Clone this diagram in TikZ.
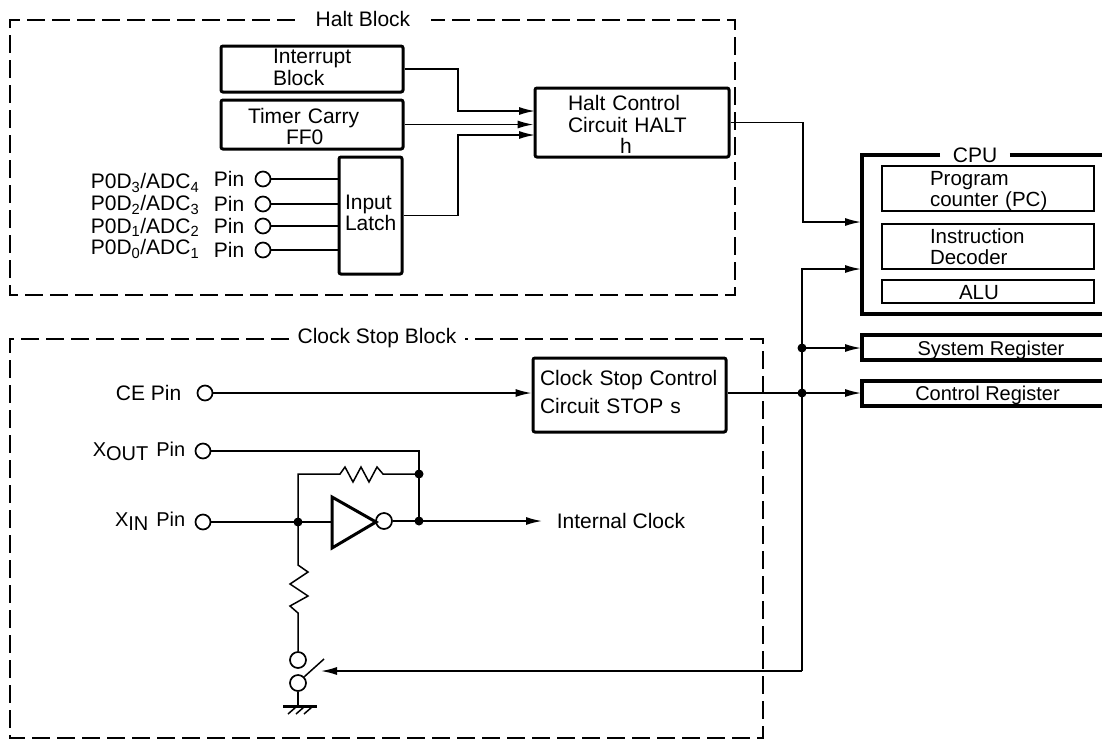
\documentclass[tikz,border=0pt]{standalone}
\usepackage{fontspec}
\usepackage{tikz}
\usetikzlibrary{positioning, arrows.meta, calc}
\setmainfont{Liberation Sans}
\newcommand{\lowtext}[1]{\raisebox{-4pt}{#1}}
\newcommand{\boxtext}[3]{\hspace*{#1}\raisebox{\dimexpr -8.3pt-#2}[0pt][0pt]{\begin{tabular}{@{}l@{}}#3\end{tabular}}}

\begin{document}
\begin{tikzpicture}[x=1pt, y=-1pt,
  line width=1.5pt,
  txt/.style={inner sep=0pt, font=\fontsize{21}{21}\selectfont, align=center},
  title/.style={txt, inner ysep=0pt},
  frame/.style={line width=1.6pt, dash pattern=on 18pt off 7pt},
  blockbox/.style={draw, line width=3pt, rounded corners=2pt, inner sep=0pt, align=left,
                   font=\fontsize{21}{21}\selectfont},
  cpubox/.style={draw, line width=1.6pt, inner sep=0pt, align=left,
                 font=\fontsize{20.5}{21}\selectfont},
  heavy/.style={line width=3.5pt},
  pin/.style={circle, draw, line width=1.7pt, inner sep=0pt, minimum size=15pt},
  dot/.style={circle, fill, inner sep=0pt, minimum size=9pt},
  arrow/.style={-{Latex[length=16pt, width=8pt]}},
]
  \useasboundingbox (0,0) rectangle (1102,740);

  % Halt block
  \node[title, inner xsep=20pt] (haltname) at (363,19) {Halt Block};
  \draw[frame] (haltname.west |- 0,20) -- (10,20) -- (10,295) -- (735,295) -- (735,20) -- (haltname.east |- 0,20);

  \node[blockbox, text width=182pt, minimum height=46pt] (interrupt) at (312,69) {\boxtext{52pt}{-2pt}{Interrupt\\Block}};
  \node[blockbox, text width=182pt, minimum height=49pt] (timer) at (312,124.5) {\boxtext{27pt}{2pt}{Timer Carry\\\hspace*{38pt}FF0}};
  \node[blockbox, text width=63pt, minimum height=117pt] (latch) at (370.5,215.5) {\boxtext{6pt}{-3pt}{Input\\Latch}};
  \node[blockbox, text width=194pt, minimum height=69pt] (haltctl) at (632,122.5) {\boxtext{33pt}{2pt}{Halt Control\\Circuit HALT\\\hspace*{52pt}h}};

  \foreach \name/\portd/\adc/\ypos/\ytext in {pa/3/4/179/183, pb/2/3/204/205, pc/1/2/226/227, pd/0/1/250/249} {
    \node[pin] (\name) at (263,\ypos) {};
    \node[txt, anchor=east] at (245,\ypos) {Pin};
    \node[txt, anchor=east] at (200,\ytext) {P0D\textsubscript{\portd}/ADC\textsubscript{\adc}};
    \draw (\name.east) -- (\name -| latch.west);
  }

  \coordinate (inta) at (535,111);
  \coordinate (intb) at (535,135);
  \draw[arrow] (interrupt.east) -| (458,111) -- (inta);
  \draw[arrow] (timer.east) -- (timer.east -| haltctl.west);
  \draw[arrow] (latch.east) -| (458,135) -- (intb);

  % CPU
  \node[title, inner xsep=12pt] (cpuname) at (975,155) {CPU};
  \draw[heavy] (cpuname.west) -- (862,155) -- (862,314) -- (1102,314);
  \draw[heavy] (cpuname.east) -- (1102,155);
  \node[cpubox, text width=212pt, minimum height=45pt] (pcbox) at (988,188.5) {\boxtext{48pt}{0pt}{Program\\counter (PC)}};
  \node[cpubox, text width=212pt, minimum height=45pt] (decoder) at (988,246.5) {\boxtext{48pt}{0pt}{Instruction\\Decoder}};
  \node[cpubox, text width=212pt, minimum height=23pt] (alu) at (988,291.5) {\boxtext{77pt}{1pt}{ALU}};

  % registers
  \node[txt, font=\fontsize{20}{20}\selectfont] (sysreg) at (991,350) {System Register};
  \node[txt, font=\fontsize{20}{20}\selectfont] (ctlreg) at (987.5,395) {Control Register};
  \draw[heavy] (1102,335) -- (862,335) -- (862,360) -- (1102,360);
  \draw[heavy] (1102,381) -- (862,381) -- (862,406) -- (1102,406);

  \coordinate (cpuhalt) at (861,222);
  \coordinate (cpustop) at (861,269);
  \coordinate (sysin) at (861,348);
  \coordinate (ctlin) at (861,393);
  \draw[arrow] (haltctl.east) -| (803,222) -- (cpuhalt);

  % Clock stop block
  \node[title, inner xsep=8pt] (stopname) at (377,338) {Clock Stop Block};
  \draw[frame] (stopname.west |- 0,339) -- (10,339) -- (10,738) -- (763,738) -- (763,339) -- (stopname.east |- 0,339);

  \node[blockbox, text width=193pt, minimum height=74pt] (stopctl) at (629.5,395) {\boxtext{7pt}{-3pt}{Clock Stop Control\\[7pt]Circuit STOP s}};
  \node[pin] (cepin) at (205,393) {};
  \node[txt, anchor=east] at (182,393) {CE Pin};
  \draw[arrow] (cepin.east) -- (cepin -| stopctl.west);

  \node[dot] (sysdot) at (802,348) {};
  \node[dot] (ctldot) at (802,393) {};
  \coordinate (swcorner) at (802,671);
  \coordinate (swtip) at (321,671);
  \draw[arrow] (ctldot.center) -- (ctlin);
  \draw[arrow] (sysdot.center) -- (sysin);
  \draw (ctldot -| stopctl.east) -- (ctldot.center);
  \draw[arrow] (swcorner) -- (802,269) -- (cpustop);
  \draw[arrow] (swcorner) -- (swtip);

  % oscillator
  \node[pin] (xoutpin) at (203,451) {};
  \node[pin] (xinpin) at (203,522) {};
  \node[txt, anchor=east, font=\fontsize{20}{20}\selectfont] at (186,451) {X\lowtext{OUT}\hspace{8pt}Pin};
  \node[txt, anchor=east, font=\fontsize{20}{20}\selectfont] at (186,521) {X\lowtext{IN}\hspace{8pt}Pin};
  \node[dot] (indot) at (298,522) {};
  \node[dot] (fbdot) at (419,474) {};
  \node[dot] (outdot) at (419,521) {};
  \node[txt, anchor=west] (intclock) at (556,521) {Internal Clock};
  \node[pin, minimum size=16pt] (bubble) at (384,521) {};
  \coordinate (invin) at (332,522);
  \draw[line width=3pt, line join=miter] (332,497) -- (376,522) -- (332,548) -- cycle;

  \draw (xoutpin.east) -- (419,451) -- (outdot.center);
  \draw (xinpin.east) -- (indot.center) -- (invin);
  \draw (bubble.east) -- (outdot.center);
  \draw[arrow, shorten >=14pt] (outdot.center) -- (intclock.west);
  \draw (indot.center) -- (298,474) -- (340,474) -- (345,467) -- (353,482) -- (361,467) -- (369,482)
    -- (377,467) -- (383,474) -- (fbdot.center);

  \node[pin, minimum size=16pt] (swtop) at (298,660) {};
  \node[pin, minimum size=16pt] (swbot) at (298,683) {};
  \draw (indot.center) -- (298,565) -- (308,572) -- (290,584) -- (308,596) -- (290,606) -- (298,613) -- (swtop.north);
  \draw (swbot.north east) -- (324,659);

  % ground
  \coordinate (gnd) at (298,706);
  \draw (swbot.south) -- (gnd);
  \draw[line width=3pt] (283,706) -- (317,706);
  \foreach \tickx in {296,304,312} {
    \draw (\tickx,707) -- ++(-8,7);
  }
\end{tikzpicture}
\end{document}
